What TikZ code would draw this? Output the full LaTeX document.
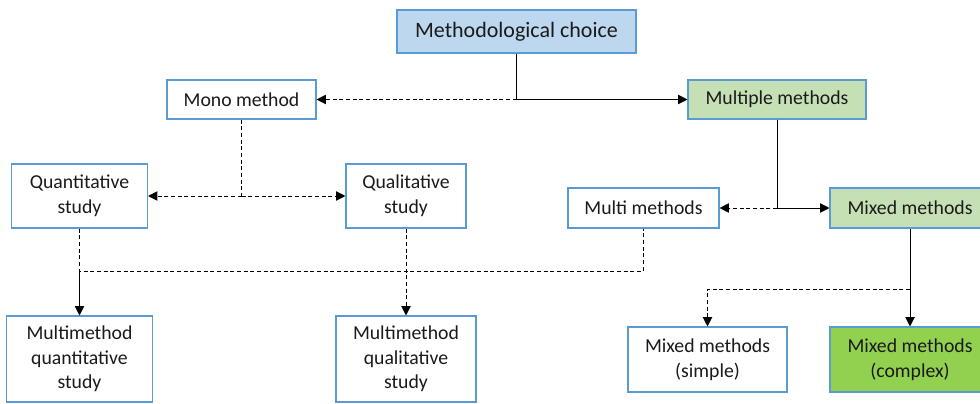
\documentclass[tikz,border=0pt]{standalone}
\usepackage{fontspec}
\setmainfont{Carlito}
\usetikzlibrary{arrows.meta}

\definecolor{boxblue}{HTML}{5B9BD5}
\definecolor{choiceblue}{HTML}{BDD7EE}
\definecolor{lightgreen}{HTML}{C5E0B4}
\definecolor{darkgreen}{HTML}{92D050}
\definecolor{textgray}{HTML}{1A1A1A}

\begin{document}
\begin{tikzpicture}[x = 0.75pt, y = -0.75pt, font = \fontsize{14.8}{18.5}\selectfont, text = textgray,
            box/.style = {draw = boxblue, line width = 0.8pt, fill = white, align = center, inner sep = 0pt},
            link/.style = {line width = 0.75pt},
            dashed link/.style = {link, dash pattern = on 3pt off 2pt},
            > = {Triangle[length = 7pt, width = 7pt]}]
            \useasboundingbox (0,0) rectangle (980,403);
            
            \node [box, fill = choiceblue, minimum width = 179.25pt, minimum height = 32.25pt, font = \fontsize{16.5}{19}\selectfont] (choice) at (516.5,31.5) {Methodological choice};
            \node [box, minimum width = 111.75pt, minimum height = 29.25pt] (mono) at (241.5,99.5) {Mono method};
            \node [box, fill = lightgreen, minimum width = 133.5pt, minimum height = 29.25pt] (multiple) at (777,99.5) {Multiple methods};
            
            \node [box, minimum width = 102pt, minimum height = 48pt] (quant) at (79.5,196) {Quantitative\\study};
            \node [box, minimum width = 90pt, minimum height = 48pt] (qual) at (406,196) {Qualitative\\study};
            \node [box, minimum width = 113.25pt, minimum height = 30pt] (multi) at (643.5,208) {Multi methods};
            \node [box, fill = lightgreen, minimum width = 120pt, minimum height = 30pt] (mixed) at (910,208) {Mixed methods};
            
            \node [box, minimum width = 109.5pt, minimum height = 64.5pt] (mmquant) at (79.5,359) {Multimethod\\quantitative\\study};
            \node [box, minimum width = 105pt, minimum height = 64.5pt] (mmqual) at (406,359) {Multimethod\\qualitative\\study};
            \node [box, minimum width = 119.25pt, minimum height = 48.75pt] (simple) at (707.5,359.5) {Mixed methods\\(simple)};
            \node [box, fill = darkgreen, minimum width = 120pt, minimum height = 48.75pt] (complex) at (910,359.5) {Mixed methods\\(complex)};
            
            % junctions
            \coordinate (monojoin) at (mono.south |- quant.east);
            \coordinate (studyline) at (0,271);
            \coordinate (mixline) at (0,289);
            
            \draw [link, ->] (choice.south) |- (multiple.west);
            \draw [dashed link, ->] (choice.south |- mono.east) -- (mono.east);
            
            \draw [dashed link] (mono.south) -- (monojoin);
            \draw [dashed link, ->] (monojoin) -- (quant.east);
            \draw [dashed link, ->] (monojoin) -- (qual.west);
            
            \draw [link, ->] (multiple.south) |- (mixed.west);
            \draw [dashed link, ->] (multiple.south |- mixed.west) -- (multi.east);
            
            \draw [dashed link] (quant.south) -- (quant.south |- studyline) -| (multi.south);
            \draw [link, ->] (mmquant.north |- studyline) -- (mmquant.north);
            \draw [dashed link, ->] (qual.south) -- (mmqual.north);
            
            \draw [link, ->] (mixed.south) -- (complex.north);
            \draw [dashed link, ->] (mixed.south |- mixline) -| (simple.north);
        \end{tikzpicture}
\end{document}
